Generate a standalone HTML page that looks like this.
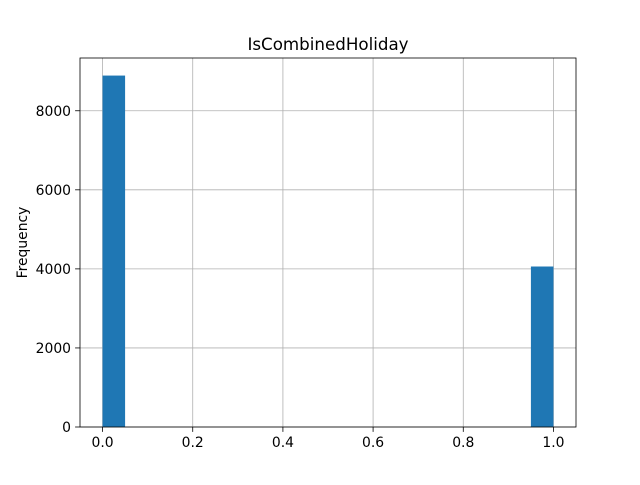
<!DOCTYPE html>
<html><head><meta charset="utf-8"><style>
body{margin:0;background:#fff;}
svg text{font-family:"DejaVu Sans","Liberation Sans",sans-serif;}
</style></head><body>
<svg id="chart" width="640" height="480"></svg>
<script>
const binEdges=[0,0.05,0.1,0.15,0.2,0.25,0.3,0.35,0.4,0.45,0.5,0.55,0.6,0.65,0.7,0.75,0.8,0.85,0.9,0.95,1.0];
const counts=[8890,0,0,0,0,0,0,0,0,0,0,0,0,0,0,0,0,0,0,4060];
const xTicks=[0,0.2,0.4,0.6,0.8,1.0];
const xTickLabels=["0.0","0.2","0.4","0.6","0.8","1.0"];
const yTicks=[0,2000,4000,6000,8000];
const yTickLabels=["0","2000","4000","6000","8000"];

const L=80,R=576,T=58,B=427;
const xmin=-0.05,xmax=1.05;
const ymax=Math.max(...counts)*1.05;
const sx=v=>L+(v-xmin)/(xmax-xmin)*(R-L);
const sy=v=>B-v/ymax*(B-T);
const svg=document.getElementById('chart');
const NS='http://www.w3.org/2000/svg';
function mk(tag,attrs,text){const e=document.createElementNS(NS,tag);for(const k in attrs)e.setAttribute(k,attrs[k]);if(text!==undefined)e.textContent=text;svg.appendChild(e);return e;}

xTicks.forEach((t,i)=>{
  const g=mk('line',{x1:sx(t),x2:sx(t),y1:T,y2:B,stroke:'#b0b0b0','stroke-width':0.8});
  
  
});
yTicks.forEach(t=>{
  const g=mk('line',{x1:L,x2:R,y1:sy(t),y2:sy(t),stroke:'#b0b0b0','stroke-width':0.8});
  
  
});
counts.forEach((c,i)=>{
  if(c<=0)return;
  const x0=sx(binEdges[i]),x1=sx(binEdges[i+1]);
  const r=mk('rect',{x:x0,y:sy(c),width:x1-x0,height:B-sy(c),fill:'#1f77b4'});
  
  
});
const f=mk('rect',{x:L,y:T,width:R-L,height:B-T,fill:'none',stroke:'#000','stroke-width':0.8});


xTicks.forEach((t,i)=>{
  mk('line',{x1:sx(t),x2:sx(t),y1:B,y2:B+4.9,stroke:'#000','stroke-width':0.8});
  const l=mk('text',{x:sx(t),y:B+20,'text-anchor':'middle','font-size':13.9},xTickLabels[i]);
  
  
});
yTicks.forEach((t,i)=>{
  mk('line',{x1:L-4.9,x2:L,y1:sy(t),y2:sy(t),stroke:'#000','stroke-width':0.8});
  const l=mk('text',{x:L-9,y:sy(t)+5,'text-anchor':'end','font-size':13.9},yTickLabels[i]);
  
  
});
const title=mk('text',{x:(L+R)/2,y:T-8,'text-anchor':'middle','font-size':16.7},'IsCombinedHoliday');


const yl=mk('text',{x:27,y:(T+B)/2,'text-anchor':'middle','font-size':13.9,transform:`rotate(-90 27 ${(T+B)/2})`},'Frequency');


</script>
</body></html>
